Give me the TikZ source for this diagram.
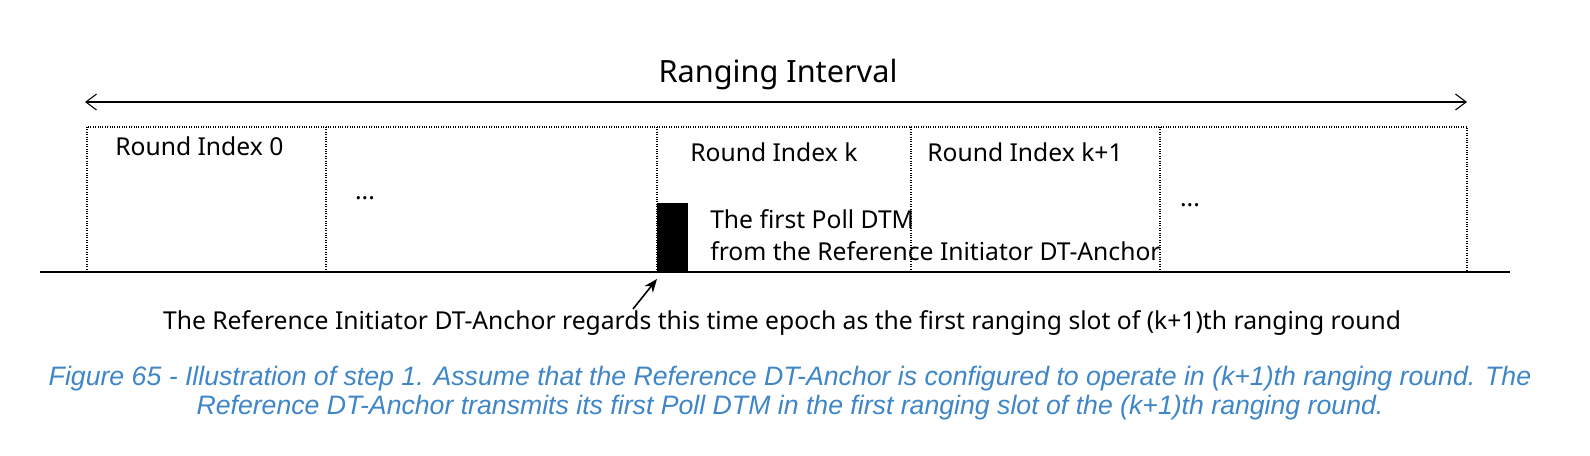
\documentclass[tikz,border=0pt]{standalone}
\usepackage{fontspec}
\usetikzlibrary{arrows.meta}
\setmainfont{Noto Sans}
\newfontfamily\capfont{Liberation Sans}
\definecolor{capblue}{RGB}{62,134,200}
\begin{document}
\begin{tikzpicture}[x=0.75pt,y=-0.75pt,
  lbl/.style={font=\fontsize{18.5}{22}\selectfont,inner sep=0pt},
  dotl/.style={densely dotted,line width=0.8pt},
  captxt/.style={font=\capfont\itshape\fontsize{20}{24}\selectfont,text=capblue,inner sep=0pt}]
\useasboundingbox (0,0) rectangle (1590,456);
\node[lbl,font=\fontsize{23}{27}\selectfont] (title) at (778,75) {Ranging Interval};
\coordinate (al) at (85,102); \coordinate (ar) at (1467,102);
\draw[{Straight Barb[length=8pt,width=12pt]}-{Straight Barb[length=8pt,width=12pt]},line width=0.8pt] (al) -- (ar);
\draw[dotl] (87,127) rectangle (1467,272);
\foreach \x in {326,657,911,1160} \draw[dotl] (\x,127) -- (\x,272);
\coordinate (b1) at (40,272); \coordinate (b2) at (1510,272);
\draw[line width=1pt] (b1) -- (b2);
\node[lbl,anchor=west] (r0) at (115,146) {Round Index 0};
\node[lbl] (d1) at (365,198) {...};
\node[lbl,anchor=west] (rk) at (690,152) {Round Index k};
\node[lbl,anchor=west] (rk1) at (927,152) {Round Index k+1};
\node[lbl] (d2) at (1190,205) {...};
\fill (657,203) rectangle (688,272);
\coordinate (blk) at (657,279);
\node[lbl,anchor=west] (p1) at (710,219) {The first Poll DTM};
\node[lbl,anchor=west] (p2) at (710,251) {from the Reference Initiator DT-Anchor};
\node[lbl] (note) at (782,323) {The Reference Initiator DT-Anchor regards this time epoch as the first ranging slot of (k+1)th ranging round};
\coordinate (as) at (633,309);
\draw[-{Stealth[length=10pt,width=8pt]},line width=1.2pt] (as) -- (blk);
\node[captxt] (c1) at (790,379) {Figure 65 - Illustration of step 1. Assume that the Reference DT-Anchor is configured to operate in (k+1)th ranging round. The};
\node[captxt] (c2) at (790,408) {Reference DT-Anchor transmits its first Poll DTM in the first ranging slot of the (k+1)th ranging round.};
\end{tikzpicture}
\end{document}
